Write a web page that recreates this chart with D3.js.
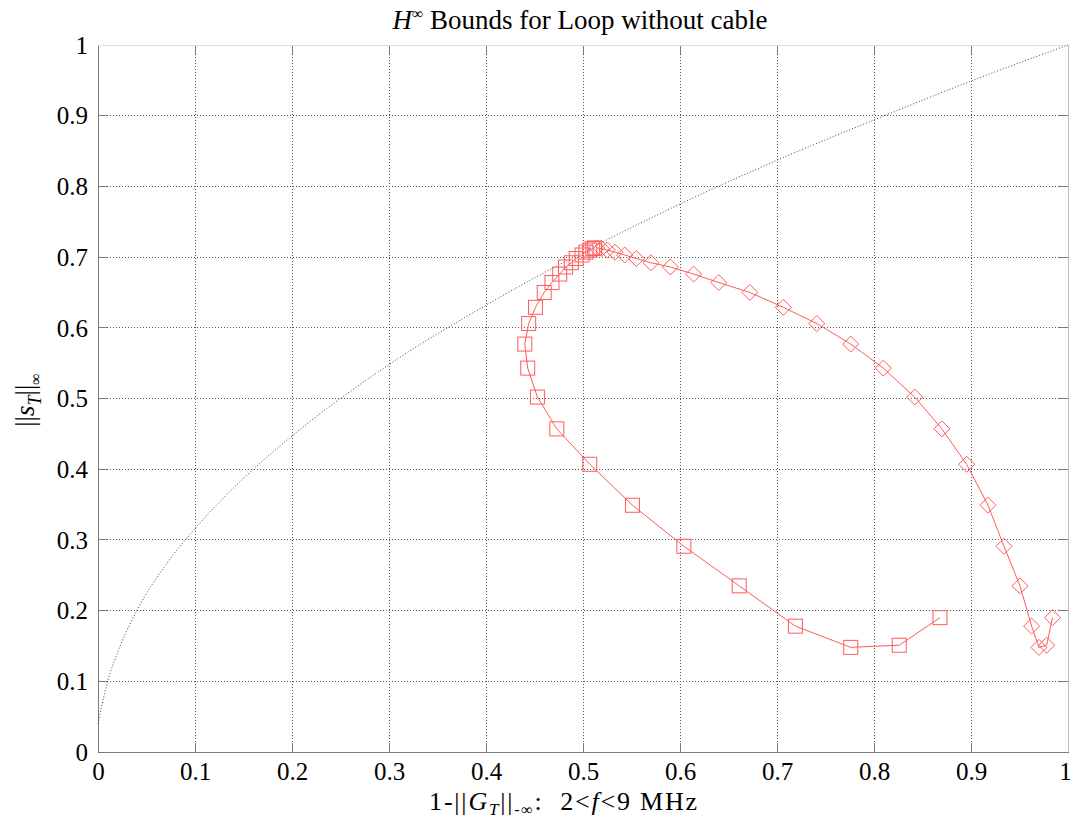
<!DOCTYPE html>
<html>
<head>
<meta charset="utf-8">
<script src="https://cdn.jsdelivr.net/npm/d3@7"></script>
<style>
  html, body { margin: 0; padding: 0; background: #fff; }
  svg { display: block; }
  text { font-family: "Liberation Serif", "Times New Roman", serif; fill: #000; }
</style>
</head>
<body>
<svg id="chart" width="1073" height="820"></svg>
<script>
// ---- data ----
const xTicks = [0, 0.1, 0.2, 0.3, 0.4, 0.5, 0.6, 0.7, 0.8, 0.9, 1];
const yTicks = [0, 0.1, 0.2, 0.3, 0.4, 0.5, 0.6, 0.7, 0.8, 0.9, 1];

// shared ||s_T|| values (both series have the same ordinates)
const sT = [0.190, 0.151, 0.148, 0.178, 0.235, 0.291, 0.349, 0.407, 0.457, 0.502,
            0.543, 0.577, 0.606, 0.629, 0.650, 0.664, 0.676, 0.686, 0.692, 0.698,
            0.703, 0.707, 0.710, 0.712, 0.713];
// square series abscissae
const xSquares = [0.868, 0.826, 0.776, 0.719, 0.661, 0.604, 0.551, 0.507, 0.473, 0.453,
                  0.443, 0.440, 0.444, 0.451, 0.460, 0.468, 0.476, 0.482, 0.488, 0.493,
                  0.499, 0.503, 0.507, 0.510, 0.512];
// diamond series abscissae
const xDiamonds = [0.984, 0.978, 0.970, 0.9625, 0.9505, 0.934, 0.9175, 0.8955, 0.870, 0.842,
                   0.8096, 0.776, 0.741, 0.7065, 0.672, 0.640, 0.614, 0.590, 0.570, 0.555,
                   0.543, 0.533, 0.525, 0.519, 0.514];
// dotted bound curve
const boundX = [0, 0.003, 0.01, 0.02, 0.04, 0.07, 0.1, 0.15, 0.2, 0.3, 0.4, 0.5, 0.6, 0.7, 0.8, 0.9, 1.0];
const boundY = [0.04, 0.06, 0.10, 0.14, 0.20, 0.265, 0.316, 0.387, 0.447, 0.548, 0.632, 0.707, 0.775, 0.837, 0.894, 0.949, 1.0];

// ---- layout ----
const svg = d3.select("#chart");
const L = 98, R = 1068, T = 45, B = 752;
const x = d3.scaleLinear().domain([0, 1]).range([L, R]);
const y = d3.scaleLinear().domain([0, 1]).range([B, T]);

const gridColor = "#555";
const axisColor = "#7a7a7a";
const tickFont = 25, labelFont = 27;

// grid
const grid = svg.append("g");
grid.selectAll(".gx").data(xTicks.slice(1, -1)).enter().append("line")
  .attr("x1", d => x(d)).attr("x2", d => x(d))
  .attr("y1", T).attr("y2", B)
  .attr("stroke", gridColor).attr("stroke-width", 1)
  .attr("stroke-dasharray", "1,2").attr("shape-rendering", "crispEdges");
grid.selectAll(".gy").data(yTicks.slice(1, -1)).enter().append("line")
  .attr("x1", L).attr("x2", R)
  .attr("y1", d => y(d)).attr("y2", d => y(d))
  .attr("stroke", gridColor).attr("stroke-width", 1)
  .attr("stroke-dasharray", "1,2").attr("shape-rendering", "crispEdges");

// axes
const xAxis = d3.axisBottom(x).tickValues(xTicks).tickSize(0).tickFormat(d => String(d));
const yAxis = d3.axisLeft(y).tickValues(yTicks).tickSize(0).tickFormat(d => String(d));

const gx = svg.append("g").attr("transform", `translate(0,${B})`).call(xAxis);
const gy = svg.append("g").attr("transform", `translate(${L},0)`).call(yAxis);
[gx, gy].forEach(g => {
  g.attr("font-family", null).attr("font-size", null);
  g.select(".domain").attr("stroke", axisColor).attr("shape-rendering", "crispEdges");
  g.selectAll("text").style("font-size", tickFont + "px").attr("fill", "#000");
});
gx.selectAll("text").attr("dy", null).attr("y", 28)
  .attr("x", d => d === 1 ? -3 : 0);
gy.selectAll("text").attr("dy", "0.33em").attr("x", -10);

// inner tick marks on all four sides
const tk = svg.append("g").attr("stroke", axisColor).attr("shape-rendering", "crispEdges");
xTicks.forEach(d => {
  tk.append("line").attr("x1", x(d)).attr("x2", x(d)).attr("y1", B).attr("y2", B - 9);
  tk.append("line").attr("x1", x(d)).attr("x2", x(d)).attr("y1", T).attr("y2", T + 9);
});
yTicks.forEach(d => {
  tk.append("line").attr("x1", L).attr("x2", L + 9).attr("y1", y(d)).attr("y2", y(d));
  tk.append("line").attr("x1", R).attr("x2", R - 9).attr("y1", y(d)).attr("y2", y(d));
});
// right & top box
svg.append("line").attr("x1", R).attr("x2", R).attr("y1", T).attr("y2", B)
  .attr("stroke", "#bbb").attr("shape-rendering", "crispEdges");
svg.append("line").attr("x1", L).attr("x2", R).attr("y1", T).attr("y2", T)
  .attr("stroke", "#ddd").attr("shape-rendering", "crispEdges");

// bound curve
const boundData = boundX.map((v, i) => [v, boundY[i]]);
svg.append("path").datum(boundData)
  .attr("d", d3.line().x(d => x(d[0])).y(d => y(d[1])).curve(d3.curveMonotoneX))
  .attr("fill", "none").attr("stroke", "#444").attr("stroke-width", 1)
  .attr("stroke-dasharray", "1,2");

// red series
const red = "#ff5a5a";
const sq = xSquares.map((v, i) => [v, sT[i]]);
const di = xDiamonds.map((v, i) => [v, sT[i]]);
const line = d3.line().x(d => x(d[0])).y(d => y(d[1]));
[sq, di].forEach(data => {
  svg.append("path").datum(data).attr("d", line)
    .attr("fill", "none").attr("stroke", red).attr("stroke-width", 1);
});
svg.append("g").selectAll("rect").data(sq).enter().append("rect")
  .attr("x", d => x(d[0]) - 7).attr("y", d => y(d[1]) - 7)
  .attr("width", 14).attr("height", 14)
  .attr("fill", "none").attr("stroke", red).attr("stroke-width", 1);
svg.append("g").selectAll("path").data(di).enter().append("path")
  .attr("d", d => {
    const cx = x(d[0]), cy = y(d[1]), r = 8;
    return `M${cx},${cy - r}L${cx + r},${cy}L${cx},${cy + r}L${cx - r},${cy}Z`;
  })
  .attr("fill", "none").attr("stroke", red).attr("stroke-width", 1);

// title
const title = svg.append("text").attr("x", (L + R) / 2 - 3).attr("y", 29)
  .attr("text-anchor", "middle").style("font-size", labelFont + "px");
title.append("tspan").attr("font-style", "italic").text("H");
title.append("tspan").style("font-size", "16px").attr("dy", -10).text("∞");
title.append("tspan").attr("dy", 10).text(" Bounds for Loop without cable");

// x label
const xl = svg.append("text").attr("x", 564).attr("y", 810)
  .attr("text-anchor", "middle").style("font-size", "26px").style("letter-spacing", "1.8px");
xl.append("tspan").text("1-||");
xl.append("tspan").attr("font-style", "italic").text("G");
xl.append("tspan").attr("font-style", "italic").style("font-size", "17px").attr("dy", 5).text("T");
xl.append("tspan").attr("dy", -5).text("||");
xl.append("tspan").style("font-size", "16px").attr("dy", 5).text("-∞");
xl.append("tspan").attr("dy", -5).text(":\u00a0\u00a02<");
xl.append("tspan").attr("font-style", "italic").text("f");
xl.append("tspan").text("<9 MHz");

// y label
const yl = svg.append("text")
  .attr("transform", `translate(34,400) rotate(-90)`)
  .attr("text-anchor", "middle").style("font-size", labelFont + "px");
yl.append("tspan").text("||");
yl.append("tspan").attr("font-style", "italic").text("s");
yl.append("tspan").attr("font-style", "italic").style("font-size", "18px").attr("dy", 7).text("T");
yl.append("tspan").attr("dy", -7).text("||");
yl.append("tspan").style("font-size", "16px").attr("dy", 7).text("∞");
</script>
</body>
</html>
